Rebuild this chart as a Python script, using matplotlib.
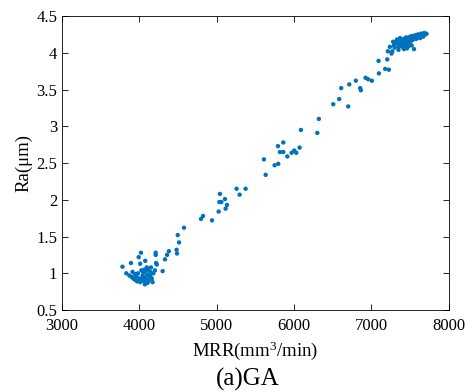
import matplotlib
matplotlib.use('Agg')
import matplotlib.pyplot as plt
from matplotlib.ticker import FuncFormatter

plt.rcParams['font.family'] = ['Liberation Serif', 'DejaVu Serif']
plt.rcParams['mathtext.default'] = 'regular'

# low cluster
low_x = [3780, 3830, 3890, 3870, 3900, 3920, 3910, 3940, 3950, 3960, 3980, 3990, 4020,
         4010, 4000, 3970, 4010, 4030, 4040, 4050, 4060, 4070, 4080, 4075, 4090, 4100,
         4110, 4095, 4120, 4130, 4140, 4150, 4160, 4170, 4180, 4060, 4085, 4045, 4025,
         3935, 4105, 4140, 4200, 4210, 4210, 4215, 4225, 4300, 4330, 4357, 4380, 4480,
         4486, 4512, 4495, 4576]
low_y = [1.09, 1.00, 1.14, 0.97, 0.95, 0.93, 1.02, 0.99, 0.91, 0.96, 1.00, 1.22, 1.28,
         1.13, 0.93, 0.89, 0.88, 0.92, 0.97, 1.01, 0.95, 0.85, 0.88, 1.17, 0.92, 0.98,
         1.05, 1.08, 0.90, 0.95, 1.02, 1.08, 0.93, 0.88, 1.00, 1.05, 1.03, 0.90, 1.04,
         0.92, 0.87, 0.97, 1.04, 1.28, 1.25, 1.14, 1.12, 1.03, 1.19, 1.25, 1.30, 1.32,
         1.27, 1.42, 1.52, 1.62]

# middle section
mid_x = [4796, 4822, 4938, 5024, 5041, 5033, 5059, 5106, 5132, 5114, 5256, 5295, 5373,
         5610, 5632, 5748, 5795, 5791, 5860, 5817, 5860, 5912, 5968, 6002, 6028, 6071,
         6088, 6300, 6320, 6506, 6583, 6700, 6609, 6713, 6798, 6854, 6863, 6924, 6957,
         7005, 7096, 7092, 7177, 7225, 7204, 7212, 7238, 7260, 7281]
mid_y = [1.74, 1.78, 1.72, 1.84, 2.08, 1.97, 1.97, 2.01, 1.93, 1.88, 2.15, 2.07, 2.15,
         2.55, 2.34, 2.47, 2.49, 2.73, 2.78, 2.65, 2.65, 2.59, 2.64, 2.67, 2.64, 2.71,
         2.95, 2.91, 3.10, 3.30, 3.37, 3.27, 3.52, 3.57, 3.62, 3.52, 3.49, 3.66, 3.64,
         3.62, 3.72, 3.89, 3.78, 3.77, 3.91, 4.02, 4.08, 3.99, 4.15]

# high cluster
high_x = [7270, 7290, 7300, 7320, 7330, 7340, 7350, 7360, 7370, 7380, 7390, 7400, 7410,
          7420, 7430, 7440, 7450, 7460, 7470, 7480, 7490, 7500, 7510, 7520, 7530, 7540,
          7550, 7560, 7570, 7580, 7590, 7600, 7610, 7620, 7630, 7640, 7650, 7660, 7670,
          7680, 7700, 7712, 7460, 7420, 7350, 7380, 7520, 7300, 7480]
high_y = [4.02, 4.10, 4.07, 4.15, 4.18, 4.12, 4.08, 4.14, 4.20, 4.11, 4.17, 4.08, 4.13,
          4.19, 4.10, 4.15, 4.21, 4.12, 4.17, 4.20, 4.14, 4.22, 4.16, 4.19, 4.23, 4.18,
          4.05, 4.21, 4.24, 4.19, 4.22, 4.25, 4.21, 4.24, 4.20, 4.26, 4.23, 4.25, 4.22,
          4.27, 4.25, 4.26, 4.06, 4.05, 4.04, 4.18, 4.10, 4.13, 4.09]

mrr = low_x + mid_x + high_x
ra = low_y + mid_y + high_y

fig = plt.figure(figsize=(4.67, 3.91), dpi=100)
ax = fig.add_axes([0.133, 0.207, 0.828, 0.752])
ax.scatter(mrr, ra, s=10, color='#0072BD', edgecolors='none')

ax.set_xlim(3000, 8000)
ax.set_ylim(0.5, 4.5)
ax.set_xticks(range(3000, 8001, 1000))
ax.set_yticks([0.5, 1, 1.5, 2, 2.5, 3, 3.5, 4, 4.5])
ax.yaxis.set_major_formatter(FuncFormatter(lambda v, p: ('%g' % v)))
ax.tick_params(direction='in', labelsize=12, length=4, width=0.6, top=True, right=True,
               labeltop=False, labelright=False)
ax.tick_params(axis='x', pad=6)
for s in ax.spines.values():
    s.set_linewidth(0.6)

ax.set_xlabel('MRR(mm$^3$/min)', fontsize=13.5, labelpad=4)
ax.set_ylabel('Ra(μm)', fontsize=13.5, labelpad=3)
fig.text(0.53, 0.0, '(a)GA', ha='center', va='bottom', fontsize=18)

plt.savefig('out.png', dpi=100)
